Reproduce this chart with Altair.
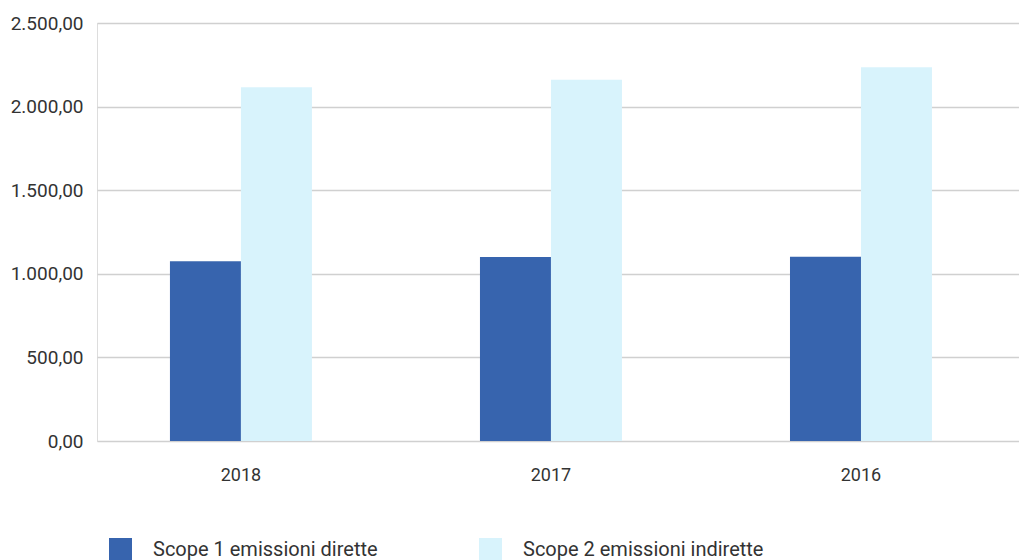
import altair as alt
import pandas as pd

years = ["2018", "2017", "2016"]
series = ["Scope 1 emissioni dirette", "Scope 2 emissioni indirette"]
scope1 = [1075, 1100, 1102]
scope2 = [2115, 2160, 2235]
y_ticks = [0, 500, 1000, 1500, 2000, 2500]

rows = []
for i, y in enumerate(years):
    rows.append({"year": y, "serie": series[0], "value": scope1[i]})
    rows.append({"year": y, "serie": series[1], "value": scope2[i]})
df = pd.DataFrame(rows)

FONT = "Roboto"

chart = alt.Chart(df).mark_bar().encode(
    x=alt.X("year:N", sort=years,
            scale=alt.Scale(paddingInner=0.542, paddingOuter=0.258, align=0.456),
            axis=alt.Axis(title=None, labelAngle=0, labelFontSize=18, labelFont=FONT,
                          labelColor="#333333", labelPadding=25, ticks=False, domain=False,
                          grid=False)),
    xOffset=alt.XOffset("serie:N", sort=series),
    y=alt.Y("value:Q",
            scale=alt.Scale(domain=[0, 2500], nice=False),
            axis=alt.Axis(title=None, values=y_ticks, labelFontSize=19, labelFont=FONT,
                          labelColor="#333333", labelPadding=14, ticks=False, domain=False,
                          gridColor="#d0d0d0", gridWidth=1.5,
                          labelExpr="replace(replace(replace(format(datum.value, ',.2f'), ',', '#'), '.', ','), '#', '.')")),
    color=alt.Color("serie:N", sort=series,
                    scale=alt.Scale(domain=series, range=["#3764ae", "#d8f3fc"]),
                    legend=alt.Legend(title=None, orient="none", legendX=12, legendY=515,
                                      direction="horizontal", columns=2, columnPadding=101,
                                      symbolType="square", symbolSize=529, symbolStrokeWidth=0,
                                      labelFontSize=20, labelFont=FONT, labelColor="#333333",
                                      labelOffset=21, labelLimit=400)),
).properties(
    width=922, height=418,
    padding={"left": 97, "top": 23, "right": 0, "bottom": 119},
    autosize=alt.AutoSizeParams(type="none"),
).configure_view(stroke=None).configure(background="white")

chart.save("out.html", embed_options={"renderer": "svg", "actions": False})
